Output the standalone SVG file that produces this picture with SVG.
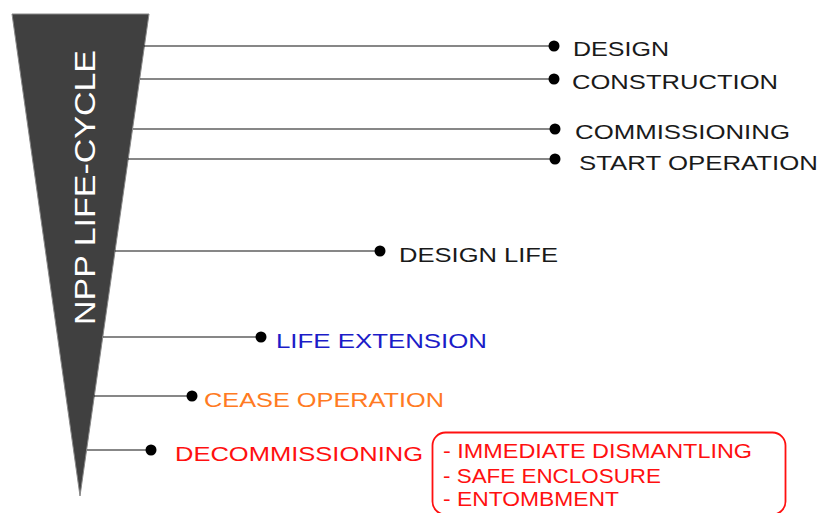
<svg xmlns="http://www.w3.org/2000/svg" width="820" height="513" viewBox="0 0 820 513">
<style>
.lbl{font-family:"Liberation Sans",Arial,sans-serif;font-size:21px;fill:#1a1a1a}
.conn line{stroke:#111;stroke-width:1.1}
.conn circle{fill:#000}
.sub{font-family:"Liberation Sans",Arial,sans-serif;font-size:19.5px;fill:#ff1010}
</style>
<rect width="820" height="513" fill="#fff"/>
<g id="lifecycle">
<polygon points="12,14 149,14 80,496" fill="#404040" stroke="#888" stroke-width="1"/>
<text transform="translate(95,325) rotate(-90)" textLength="275" lengthAdjust="spacingAndGlyphs" font-family="Liberation Sans, Arial, sans-serif" font-size="30" fill="#fff">NPP LIFE-CYCLE</text>
</g>
<g id="connectors" class="conn">
<line x1="144" y1="46" x2="554" y2="46"/><circle cx="554" cy="46" r="5.5"/>
<line x1="140" y1="79" x2="554" y2="79"/><circle cx="554" cy="79" r="5.5"/>
<line x1="133" y1="129" x2="555" y2="129"/><circle cx="555" cy="129" r="5.5"/>
<line x1="128" y1="159" x2="555" y2="159"/><circle cx="555" cy="159" r="5.5"/>
<line x1="115" y1="251" x2="380" y2="251"/><circle cx="380" cy="251" r="5.5"/>
<line x1="103" y1="337" x2="261" y2="337"/><circle cx="261" cy="337" r="5.5"/>
<line x1="94" y1="396" x2="192" y2="396"/><circle cx="192" cy="396" r="5.5"/>
<line x1="87" y1="450" x2="151" y2="450"/><circle cx="151" cy="450" r="5.5"/>
</g>
<g id="design"><text class="lbl" x="573" y="56" textLength="96" lengthAdjust="spacingAndGlyphs">DESIGN</text></g>
<g id="construction"><text class="lbl" x="572" y="89" textLength="206" lengthAdjust="spacingAndGlyphs">CONSTRUCTION</text></g>
<g id="commissioning"><text class="lbl" x="575" y="139" textLength="215" lengthAdjust="spacingAndGlyphs">COMMISSIONING</text></g>
<g id="start-operation"><text class="lbl" x="579" y="170" textLength="239" lengthAdjust="spacingAndGlyphs">START OPERATION</text></g>
<g id="design-life"><text class="lbl" x="399" y="262" textLength="159" lengthAdjust="spacingAndGlyphs">DESIGN LIFE</text></g>
<g id="life-extension"><text class="lbl" x="276" y="348" textLength="211" lengthAdjust="spacingAndGlyphs" style="fill:#1c1cc8">LIFE EXTENSION</text></g>
<g id="cease-operation"><text class="lbl" x="204" y="407" textLength="240" lengthAdjust="spacingAndGlyphs" style="fill:#ff7a22">CEASE OPERATION</text></g>
<g id="decommissioning">
<text class="lbl" x="175" y="461" textLength="248" lengthAdjust="spacingAndGlyphs" style="fill:#ff1010">DECOMMISSIONING</text>
<rect x="432.5" y="432.5" width="353" height="82" rx="13" fill="none" stroke="#ff1010" stroke-width="1.8"/>
<text class="sub" x="443" y="458" textLength="309" lengthAdjust="spacingAndGlyphs">- IMMEDIATE DISMANTLING</text>
<text class="sub" x="443" y="483" textLength="218" lengthAdjust="spacingAndGlyphs">- SAFE ENCLOSURE</text>
<text class="sub" x="443" y="506" textLength="176" lengthAdjust="spacingAndGlyphs">- ENTOMBMENT</text>
</g>
</svg>
